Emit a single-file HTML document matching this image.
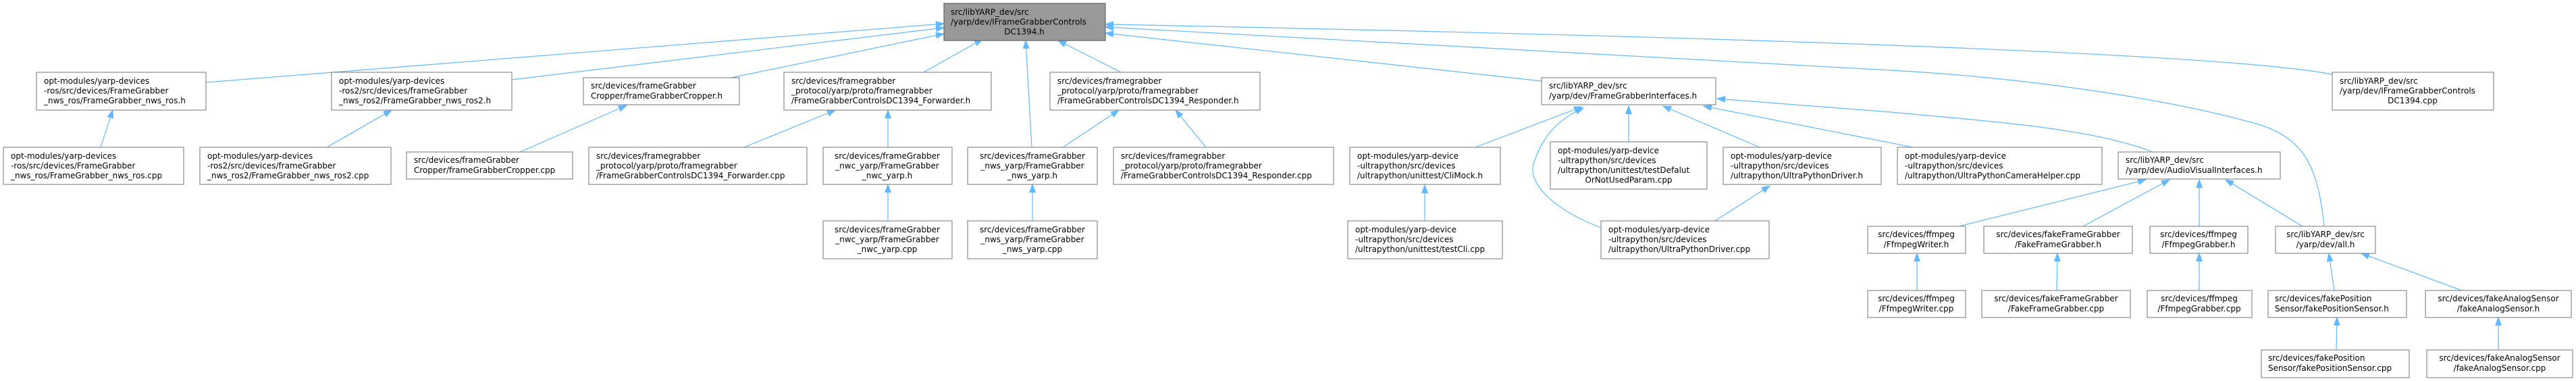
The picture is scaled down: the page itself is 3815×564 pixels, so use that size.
<!DOCTYPE html>
<html><head><meta charset="utf-8"><style>
html,body{margin:0;padding:0;background:#fff;}
svg{display:block;}
text{font-family:"DejaVu Sans","Liberation Sans",sans-serif;font-size:12px;fill:#000;}
.b{fill:#fff;stroke:#8c8c8c;stroke-width:1.2;}
.e{fill:none;stroke:#63b8ff;stroke-width:1.2;}
.m{text-anchor:middle;}
</style></head><body>
<svg width="3815" height="564" viewBox="0 0 3815 564" xmlns="http://www.w3.org/2000/svg">
<defs><marker id="a" markerUnits="userSpaceOnUse" markerWidth="13" markerHeight="10" refX="12" refY="4.5" orient="auto"><path d="M0,0 L12,4.5 L0,9 z" fill="#63b8ff" stroke="#63b8ff"/></marker></defs>
<g marker-end="url(#a)">
<path class="e" d="M305,122 L1398,35"/>
<path class="e" d="M758,118 L1398,41"/>
<path class="e" d="M1083,115 L1398,50"/>
<path class="e" d="M1368,107 L1455,58"/>
<path class="e" d="M1528,218 L1519,60"/>
<path class="e" d="M1660,107 L1567,60"/>
<path class="e" d="M2283,120 L1637,49"/>
<path class="e" d="M3454,110 C3300,80 2600,55 1637,36"/>
<path class="e" d="M3442,335 C3432,240 3410,200 3330,180 C3200,145 3000,115 2800,104 L1637,40"/>
<path class="e" d="M2833,218 L2523,157"/>
<path class="e" d="M3188,225 C3100,190 2950,180 2800,166 L2543,146"/>
<path class="e" d="M2185,218 L2343,158"/>
<path class="e" d="M2412,210 L2412,157"/>
<path class="e" d="M2606,218 L2463,157"/>
<path class="e" d="M2371,337 C2300,310 2260,270 2272,240 C2285,200 2310,175 2345,160"/>
<path class="e" d="M2540,327 L2621,275"/>
<path class="e" d="M2110,327 L2110,274"/>
<path class="e" d="M1102,218 L1237,163"/>
<path class="e" d="M1315,218 L1315,163"/>
<path class="e" d="M1315,327 L1315,273"/>
<path class="e" d="M1574,218 L1657,163"/>
<path class="e" d="M1786,218 L1741,163"/>
<path class="e" d="M1529,327 L1529,273"/>
<path class="e" d="M770,225 L928,156"/>
<path class="e" d="M484,218 L580,163"/>
<path class="e" d="M149,218 L167,163"/>
<path class="e" d="M2901,335 L3178,266"/>
<path class="e" d="M3085,335 L3213,266"/>
<path class="e" d="M3257,335 L3257,266"/>
<path class="e" d="M3410,335 L3296,266"/>
<path class="e" d="M2839,430 L2839,375"/>
<path class="e" d="M3046,430 L3047,375"/>
<path class="e" d="M3257,430 L3257,375"/>
<path class="e" d="M3457,430 L3449,375"/>
<path class="e" d="M3646,430 L3497,375"/>
<path class="e" d="M3460,518 L3461,470"/>
<path class="e" d="M3700,518 L3700,470"/>
</g>

<rect x="1398" y="5" width="239" height="55" fill="#999" stroke="#666" stroke-width="1.2"/>
<text x="1408" y="22">src/libYARP_dev/src</text><text x="1408" y="36.5">/yarp/dev/IFrameGrabberControls</text><text class="m" x="1517" y="51">DC1394.h</text>

<rect class="b" x="54" y="107" width="251" height="56"/>
<text x="65" y="124">opt-modules/yarp-devices</text><text x="65" y="138.5">-ros/src/devices/FrameGrabber</text><text x="65" y="153">_nws_ros/FrameGrabber_nws_ros.h</text>

<rect class="b" x="5" y="218" width="267" height="55"/>
<text x="16" y="235">opt-modules/yarp-devices</text><text x="16" y="249.5">-ros/src/devices/FrameGrabber</text><text x="16" y="264">_nws_ros/FrameGrabber_nws_ros.cpp</text>

<rect class="b" x="491" y="107" width="267" height="56"/>
<text x="502" y="124">opt-modules/yarp-devices</text><text x="502" y="138.5">-ros2/src/devices/frameGrabber</text><text x="502" y="153">_nws_ros2/FrameGrabber_nws_ros2.h</text>

<rect class="b" x="296" y="218" width="283" height="55"/>
<text x="307" y="235">opt-modules/yarp-devices</text><text x="307" y="249.5">-ros2/src/devices/frameGrabber</text><text x="307" y="264">_nws_ros2/FrameGrabber_nws_ros2.cpp</text>

<rect class="b" x="864" y="115" width="231" height="40"/>
<text x="875" y="131">src/devices/frameGrabber</text><text x="875" y="146">Cropper/frameGrabberCropper.h</text>

<rect class="b" x="602" y="225" width="246" height="40"/>
<text x="613" y="241">src/devices/frameGrabber</text><text x="613" y="256">Cropper/frameGrabberCropper.cpp</text>

<rect class="b" x="1161" y="107" width="307" height="56"/>
<text x="1172" y="124">src/devices/framegrabber</text><text x="1172" y="138.5">_protocol/yarp/proto/framegrabber</text><text x="1172" y="153">/FrameGrabberControlsDC1394_Forwarder.h</text>

<rect class="b" x="872" y="218" width="323" height="55"/>
<text x="883" y="235">src/devices/framegrabber</text><text x="883" y="249.5">_protocol/yarp/proto/framegrabber</text><text x="883" y="264">/FrameGrabberControlsDC1394_Forwarder.cpp</text>

<rect class="b" x="1219" y="218" width="191" height="55"/>
<text class="m" x="1314" y="235">src/devices/frameGrabber</text><text class="m" x="1314" y="249.5">_nwc_yarp/FrameGrabber</text><text class="m" x="1314" y="264">_nwc_yarp.h</text>

<rect class="b" x="1219" y="327" width="191" height="56"/>
<text class="m" x="1314" y="344">src/devices/frameGrabber</text><text class="m" x="1314" y="358.5">_nwc_yarp/FrameGrabber</text><text class="m" x="1314" y="373">_nwc_yarp.cpp</text>

<rect class="b" x="1433" y="218" width="192" height="55"/>
<text class="m" x="1529" y="235">src/devices/frameGrabber</text><text class="m" x="1529" y="249.5">_nws_yarp/FrameGrabber</text><text class="m" x="1529" y="264">_nws_yarp.h</text>

<rect class="b" x="1433" y="327" width="192" height="56"/>
<text class="m" x="1529" y="344">src/devices/frameGrabber</text><text class="m" x="1529" y="358.5">_nws_yarp/FrameGrabber</text><text class="m" x="1529" y="373">_nws_yarp.cpp</text>

<rect class="b" x="1555" y="107" width="311" height="56"/>
<text x="1566" y="124">src/devices/framegrabber</text><text x="1566" y="138.5">_protocol/yarp/proto/framegrabber</text><text x="1566" y="153">/FrameGrabberControlsDC1394_Responder.h</text>

<rect class="b" x="1649" y="218" width="326" height="55"/>
<text x="1660" y="235">src/devices/framegrabber</text><text x="1660" y="249.5">_protocol/yarp/proto/framegrabber</text><text x="1660" y="264">/FrameGrabberControlsDC1394_Responder.cpp</text>

<rect class="b" x="1999" y="218" width="223" height="55"/>
<text x="2010" y="235">opt-modules/yarp-device</text><text x="2010" y="249.5">-ultrapython/src/devices</text><text x="2010" y="264">/ultrapython/unittest/CliMock.h</text>

<rect class="b" x="1996" y="327" width="229" height="56"/>
<text x="2007" y="344">opt-modules/yarp-device</text><text x="2007" y="358.5">-ultrapython/src/devices</text><text x="2007" y="373">/ultrapython/unittest/testCli.cpp</text>

<rect class="b" x="2283" y="115" width="258" height="40"/>
<text x="2294" y="131">src/libYARP_dev/src</text><text x="2294" y="146">/yarp/dev/FrameGrabberInterfaces.h</text>

<rect class="b" x="2296" y="210" width="232" height="70"/>
<text x="2307" y="227">opt-modules/yarp-device</text><text x="2307" y="241.5">-ultrapython/src/devices</text><text x="2307" y="256">/ultrapython/unittest/testDefalut</text><text class="m" x="2412" y="270.5">OrNotUsedParam.cpp</text>

<rect class="b" x="2552" y="218" width="234" height="55"/>
<text x="2563" y="235">opt-modules/yarp-device</text><text x="2563" y="249.5">-ultrapython/src/devices</text><text x="2563" y="264">/ultrapython/UltraPythonDriver.h</text>

<rect class="b" x="2371" y="327" width="249" height="56"/>
<text x="2382" y="344">opt-modules/yarp-device</text><text x="2382" y="358.5">-ultrapython/src/devices</text><text x="2382" y="373">/ultrapython/UltraPythonDriver.cpp</text>

<rect class="b" x="3454" y="107" width="239" height="56"/>
<text x="3465" y="124">src/libYARP_dev/src</text><text x="3465" y="138.5">/yarp/dev/IFrameGrabberControls</text><text class="m" x="3573" y="153">DC1394.cpp</text>

<rect class="b" x="2810" y="218" width="303" height="55"/>
<text x="2821" y="235">opt-modules/yarp-device</text><text x="2821" y="249.5">-ultrapython/src/devices</text><text x="2821" y="264">/ultrapython/UltraPythonCameraHelper.cpp</text>

<rect class="b" x="3137" y="225" width="240" height="40"/>
<text x="3148" y="241">src/libYARP_dev/src</text><text x="3148" y="256">/yarp/dev/AudioVisualInterfaces.h</text>

<rect class="b" x="2766" y="335" width="145" height="40"/>
<text class="m" x="2838" y="351">src/devices/ffmpeg</text><text class="m" x="2838" y="366">/FfmpegWriter.h</text>

<rect class="b" x="2766" y="430" width="145" height="40"/>
<text class="m" x="2838" y="446">src/devices/ffmpeg</text><text class="m" x="2838" y="461">/FfmpegWriter.cpp</text>

<rect class="b" x="2938" y="335" width="220" height="40"/>
<text class="m" x="3048" y="351">src/devices/fakeFrameGrabber</text><text class="m" x="3048" y="366">/FakeFrameGrabber.h</text>

<rect class="b" x="2935" y="430" width="220" height="40"/>
<text class="m" x="3045" y="446">src/devices/fakeFrameGrabber</text><text class="m" x="3045" y="461">/FakeFrameGrabber.cpp</text>

<rect class="b" x="3184" y="335" width="145" height="40"/>
<text class="m" x="3256" y="351">src/devices/ffmpeg</text><text class="m" x="3256" y="366">/FfmpegGrabber.h</text>

<rect class="b" x="3180" y="430" width="155" height="40"/>
<text class="m" x="3257" y="446">src/devices/ffmpeg</text><text class="m" x="3257" y="461">/FfmpegGrabber.cpp</text>

<rect class="b" x="3370" y="335" width="148" height="40"/>
<text class="m" x="3444" y="351">src/libYARP_dev/src</text><text class="m" x="3444" y="366">/yarp/dev/all.h</text>

<rect class="b" x="3359" y="430" width="205" height="40"/>
<text x="3369" y="446">src/devices/fakePosition</text><text x="3369" y="461">Sensor/fakePositionSensor.h</text>

<rect class="b" x="3349" y="518" width="219" height="41"/>
<text x="3359" y="534">src/devices/fakePosition</text><text x="3359" y="549">Sensor/fakePositionSensor.cpp</text>

<rect class="b" x="3592" y="430" width="216" height="40"/>
<text class="m" x="3700" y="446">src/devices/fakeAnalogSensor</text><text class="m" x="3700" y="461">/fakeAnalogSensor.h</text>

<rect class="b" x="3594" y="518" width="216" height="41"/>
<text class="m" x="3702" y="534">src/devices/fakeAnalogSensor</text><text class="m" x="3702" y="549">/fakeAnalogSensor.cpp</text>
</svg>
</body></html>
